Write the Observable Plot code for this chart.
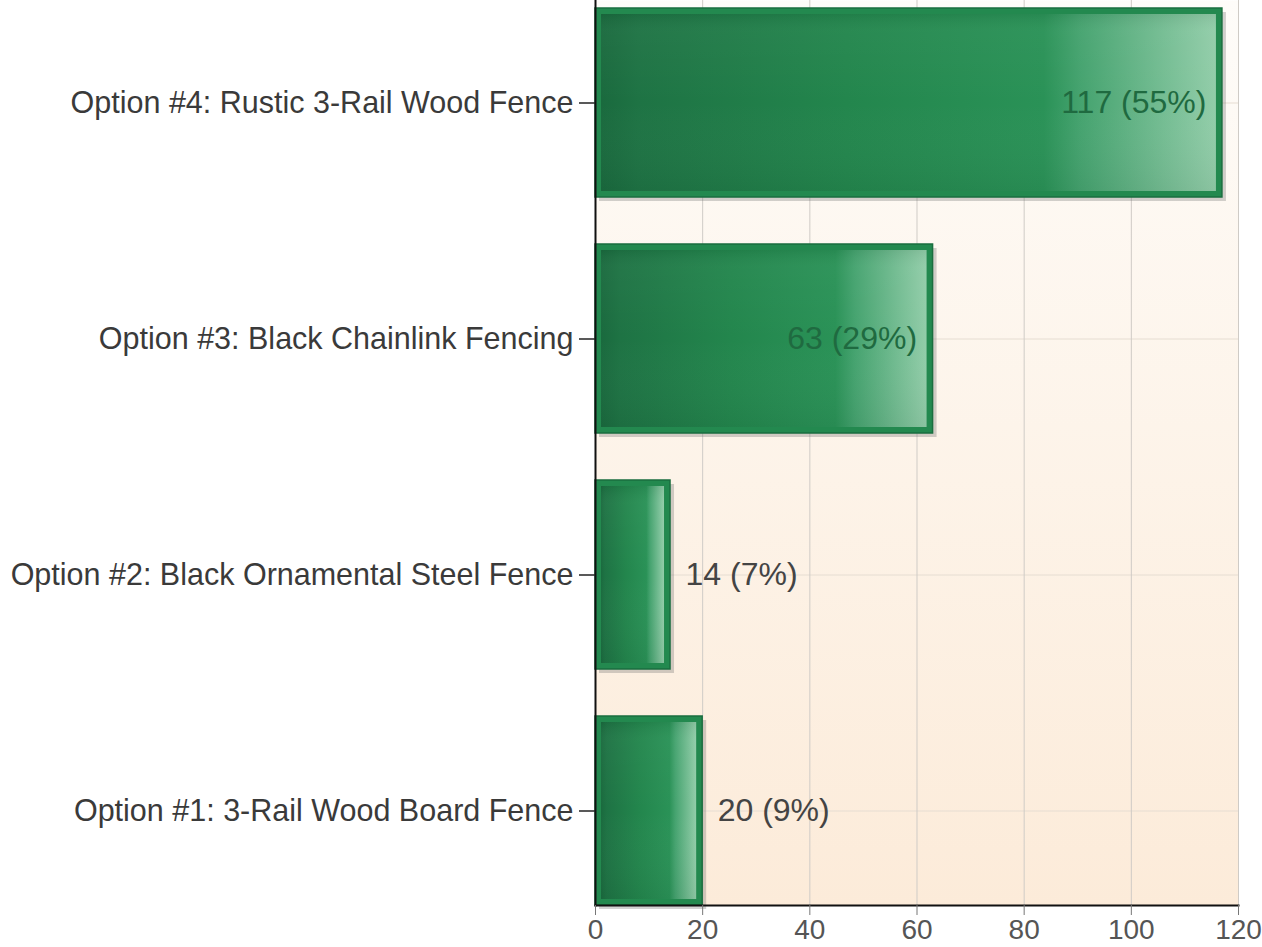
<!DOCTYPE html>
<html><head><meta charset="utf-8">
<script src="https://cdn.jsdelivr.net/npm/d3@7"></script>
<script src="https://cdn.jsdelivr.net/npm/@observablehq/plot@0.6"></script>
<style>body{margin:0;background:#fff;}</style>
</head><body><div id="chart"></div>
<script>
const categories = [
  "Option #4: Rustic 3-Rail Wood Fence",
  "Option #3: Black Chainlink Fencing",
  "Option #2: Black Ornamental Steel Fence",
  "Option #1: 3-Rail Wood Board Fence"
];
const votes = [117, 63, 14, 20];
const percents = [55, 29, 7, 9];
const xTicks = [0, 20, 40, 60, 80, 100, 120];

const data = categories.map((c, i) => ({
  option: c, votes: votes[i], pct: percents[i],
  label: `${votes[i]} (${percents[i]}%)`, inside: votes[i] > 40
}));

const font = "'Liberation Sans', Arial, sans-serif";

const svg = Plot.plot({
  width: 1262,
  height: 947,
  marginLeft: 595,
  marginRight: 24,
  marginTop: 0,
  marginBottom: 42,
  style: {fontFamily: font, background: "transparent"},
  x: {domain: [0, 120], ticks: xTicks},
  y: {domain: categories, paddingInner: 0.2, paddingOuter: 0.017, align: 1},
  marks: [
    Plot.frame({fill: "url(#plotBg)", stroke: null}),
    Plot.gridY({stroke: "#e6ddd2", strokeOpacity: 1, strokeWidth: 1}),
    Plot.gridX(xTicks, {stroke: "#cfcbc6", strokeOpacity: 1, strokeWidth: 1}),
    Plot.barX(data, {x: "votes", y: "option", dx: 4, dy: 4, fill: "#6b6b6b", fillOpacity: 0.3}),
    Plot.barX(data, {x: "votes", y: "option", fill: "#23894f", stroke: "#1a6e3f", strokeWidth: 1.5}),
    Plot.barX(data, {x: "votes", y: "option", fill: "url(#barGrad)", inset: 6}),
    Plot.barX(data, {x: "votes", y: "option", fill: "url(#barGloss)", inset: 6}),
    Plot.text(data.filter(d => d.inside), {x: "votes", y: "option", text: "label", textAnchor: "end", dx: -16, fill: "#1f6a40", fontSize: 32}),
    Plot.text(data.filter(d => !d.inside), {x: "votes", y: "option", text: "label", textAnchor: "start", dx: 15, fill: "#444", fontSize: 32}),
    Plot.frame({anchor: "left", stroke: "#111", strokeWidth: 2}),
    Plot.frame({anchor: "bottom", stroke: "#111", strokeWidth: 2}),
    Plot.axisX({ticks: xTicks, tickSize: 10, tickPadding: 4, fontSize: 28, fill: "#555", stroke: "#777", label: null}),
    Plot.axisY({tickSize: 16, tickPadding: 6, fontSize: 30.5, fill: "#3a3a3a", stroke: "#222", strokeWidth: 1.5, label: null})
  ]
});

const defs = d3.select(svg).insert("defs", ":first-child");
const bg = defs.append("linearGradient").attr("id", "plotBg").attr("x1", 0).attr("y1", 0).attr("x2", 0).attr("y2", 1);
bg.append("stop").attr("offset", 0).attr("stop-color", "#fefcf9");
bg.append("stop").attr("offset", 1).attr("stop-color", "#fcebd9");
const bar = defs.append("linearGradient").attr("id", "barGrad").attr("x1", 0).attr("y1", 0).attr("x2", 1).attr("y2", 0);
[[0, "#1a6a3e"], [0.06, "#1e7344"], [0.4, "#23864d"], [0.72, "#2a9257"], [0.78, "#45a36f"], [1, "#92cda9"]]
  .forEach(([o, c]) => bar.append("stop").attr("offset", o).attr("stop-color", c));
const gloss = defs.append("linearGradient").attr("id", "barGloss").attr("x1", 0).attr("y1", 0).attr("x2", 0).attr("y2", 1);
[[0, "#000000", 0.06], [0.1, "#ffffff", 0.03], [0.5, "#ffffff", 0], [1, "#000000", 0.05]]
  .forEach(([o, c, a]) => gloss.append("stop").attr("offset", o).attr("stop-color", c).attr("stop-opacity", a));

document.getElementById("chart").appendChild(svg);
</script>
</body></html>
